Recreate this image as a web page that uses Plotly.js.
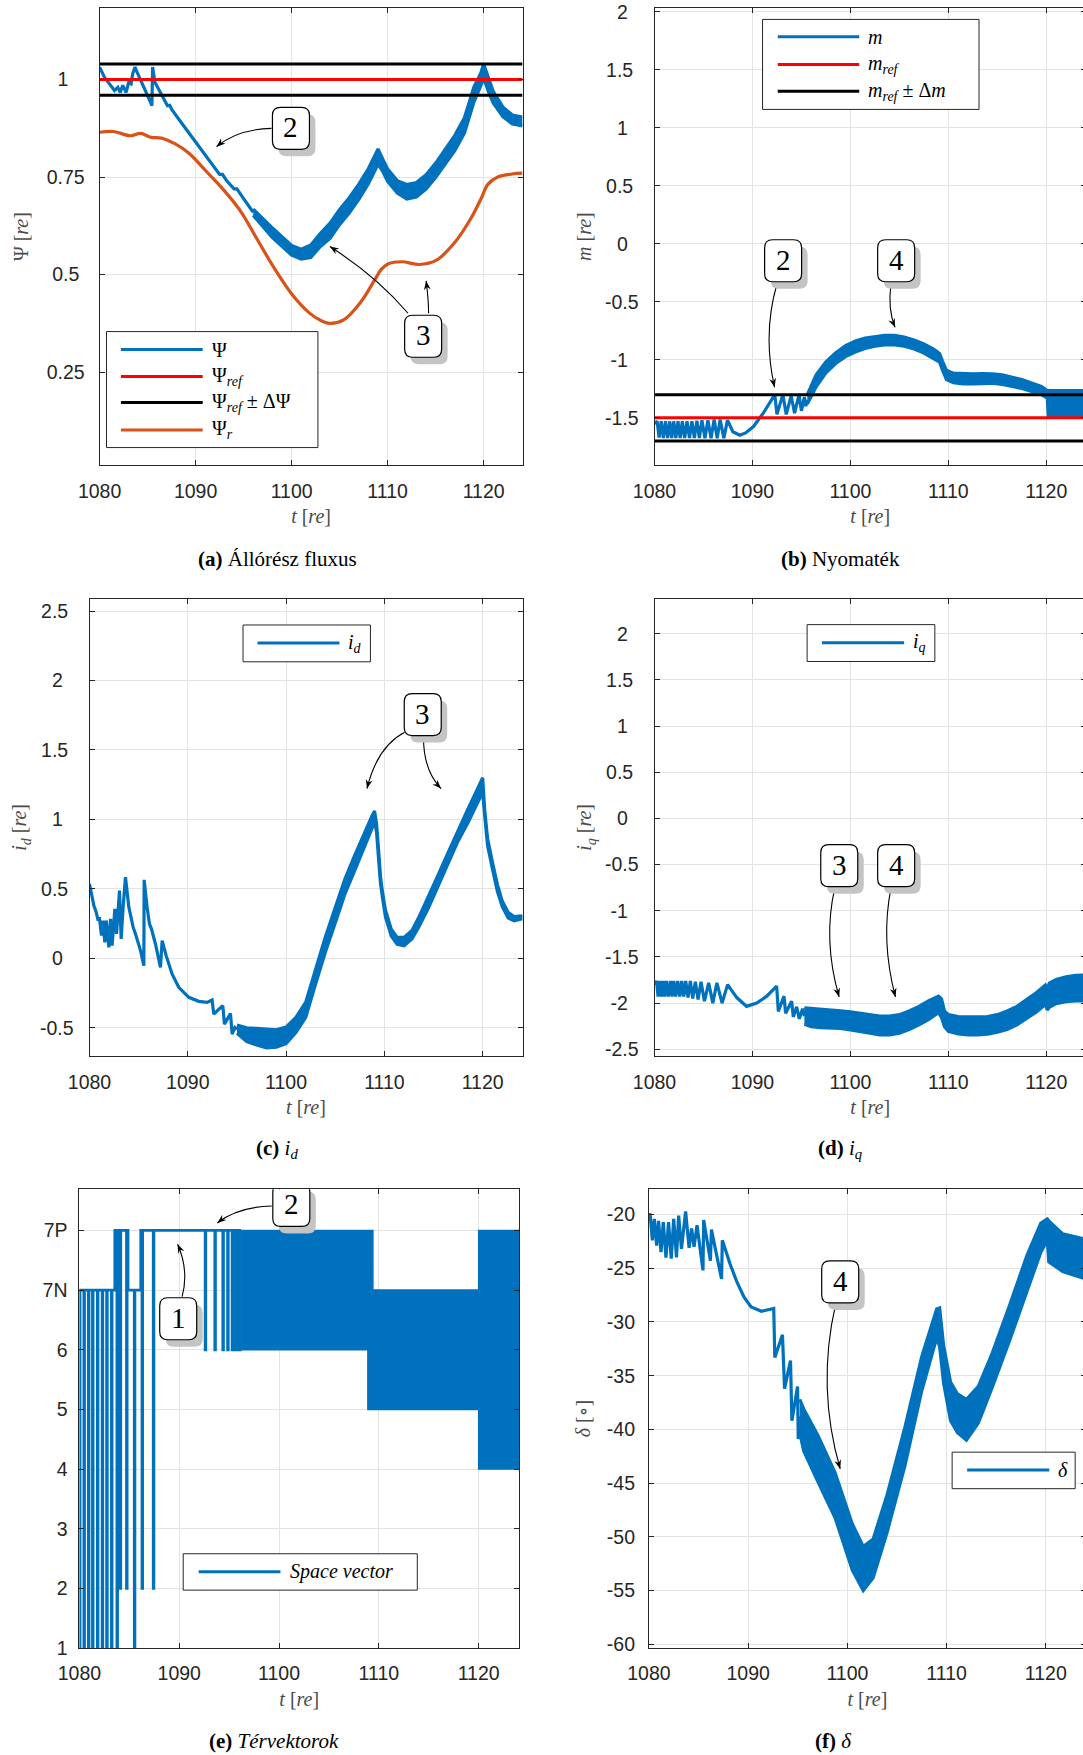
<!DOCTYPE html>
<html>
<head>
<meta charset="utf-8">
<script src="https://cdn.plot.ly/plotly-3.0.1.min.js"></script>
<style>
html,body{margin:0;padding:0;overflow:hidden;background:#ffffff;}
#chart{width:1090px;height:1755px;}
</style>
</head>
<body>
<div id="chart"></div>
<script>
// ===================== DATA =====================
const T_RANGE = [1080, 1124.05];
const X_TICKS = [1080, 1090, 1100, 1110, 1120];

// (a) stator flux
const PSI_REF = 1.0;
const PSI_DELTA = 0.04;
const PSI_T = [1080.0,1080.5,1081.03,1081.55,1081.9,1082.14,1082.41,1082.76,1083.03,1083.28,1083.45,1083.69,1083.97,1084.48,1085.0,1085.45,1085.52,1085.76,1086.2,1086.72,1087.07,1087.3,1087.55,1088.5,1090.0,1091.0,1092.0,1092.5,1092.8,1093.2,1094.0,1094.3,1095.0,1096.0];
const PSI_V = [1.032,1.006,0.989,0.972,0.98,0.967,0.985,0.967,0.993,0.989,1.015,1.032,1.015,0.989,0.959,0.933,1.032,0.993,0.972,0.95,0.933,0.934,0.922,0.89,0.84,0.805,0.772,0.757,0.757,0.742,0.72,0.72,0.695,0.66];
const PSI_BAND_T  = [1096,1098,1100,1101,1102,1103,1104,1105,1106,1107,1108,1109,1109.5,1110,1111,1112,1113,1114,1115,1116,1117,1118,1119,1119.7,1120,1120.5,1121,1122,1123,1124.05];
const PSI_BAND_HI = [0.668,0.62,0.575,0.565,0.576,0.606,0.632,0.667,0.697,0.732,0.772,0.822,0.796,0.771,0.741,0.731,0.736,0.756,0.786,0.821,0.857,0.902,0.982,1.016,1.04,1.005,0.97,0.93,0.909,0.904];
const PSI_BAND_LO = [0.652,0.595,0.55,0.54,0.544,0.572,0.593,0.628,0.658,0.693,0.733,0.783,0.764,0.739,0.709,0.694,0.699,0.719,0.749,0.784,0.818,0.863,0.943,0.984,1.004,0.969,0.94,0.905,0.886,0.881];
const PSIR_T = [1080,1081.43,1083.22,1084.26,1085.37,1086.44,1087.88,1089.31,1091.1,1092.89,1094.68,1096.47,1098.26,1100.05,1101.84,1103.0,1103.99,1105.42,1107.21,1108.64,1109.36,1110.08,1111.51,1113.3,1115.09,1116.88,1118.67,1119.74,1120.46,1121.53,1122.96,1124.05];
const PSIR_V = [0.865,0.867,0.856,0.862,0.852,0.85,0.835,0.811,0.765,0.718,0.663,0.588,0.514,0.449,0.402,0.383,0.375,0.384,0.43,0.486,0.514,0.528,0.533,0.526,0.537,0.579,0.644,0.695,0.732,0.751,0.758,0.76];

// (b) torque
const M_REF = -1.5;
const M_DELTA = 0.2;
const M_T = [1080.0,1080.27,1080.47,1080.68,1080.9,1081.12,1081.34,1081.56,1081.76,1081.96,1082.18,1082.4,1082.62,1082.84,1083.08,1083.32,1083.57,1083.82,1084.07,1084.33,1084.58,1084.84,1085.15,1085.45,1085.77,1086.09,1086.4,1086.7,1087.08,1087.45,1088.0,1088.7,1089.3,1090.1,1091.1,1092.28,1092.5,1093.1,1093.45,1093.95,1094.3,1094.75,1095.0,1095.3,1095.45,1095.6];
const M_V = [-1.55,-1.53,-1.67,-1.53,-1.675,-1.53,-1.675,-1.53,-1.675,-1.53,-1.675,-1.53,-1.675,-1.53,-1.675,-1.53,-1.675,-1.53,-1.675,-1.525,-1.675,-1.52,-1.675,-1.52,-1.675,-1.515,-1.675,-1.515,-1.675,-1.52,-1.62,-1.65,-1.63,-1.575,-1.46,-1.30,-1.47,-1.30,-1.47,-1.31,-1.46,-1.30,-1.44,-1.32,-1.40,-1.345];
const M_BAND_T  = [1095.6,1096.5,1097.5,1098.5,1099.5,1100.5,1101.5,1102.5,1103.5,1104.5,1105.5,1106.5,1107.5,1108.5,1109.1,1109.4,1109.8,1110.5,1111.5,1112.5,1113.5,1114.5,1115.5,1116.5,1117.5,1118.5,1119.5,1120.1,1120.2,1121,1122,1123,1124.05];
const M_BAND_HI = [-1.30,-1.13,-1.018,-0.938,-0.878,-0.838,-0.813,-0.798,-0.788,-0.788,-0.803,-0.828,-0.863,-0.908,-0.945,-1.01,-1.09,-1.115,-1.12,-1.12,-1.118,-1.12,-1.13,-1.15,-1.17,-1.20,-1.23,-1.265,-1.265,-1.265,-1.265,-1.265,-1.265];
const M_BAND_LO = [-1.38,-1.232,-1.112,-1.032,-0.972,-0.932,-0.902,-0.882,-0.872,-0.872,-0.882,-0.907,-0.942,-0.987,-1.02,-1.09,-1.17,-1.197,-1.207,-1.207,-1.202,-1.202,-1.212,-1.227,-1.247,-1.272,-1.30,-1.33,-1.495,-1.495,-1.495,-1.495,-1.495];

// (c) i_d
const ID_T = [1080.0,1080.2,1080.44,1080.68,1080.88,1081.0,1081.22,1081.36,1081.56,1081.7,1081.97,1082.14,1082.3,1082.58,1082.75,1083.05,1083.22,1083.42,1083.66,1084.0,1084.44,1084.68,1084.88,1085.19,1085.53,1085.56,1085.86,1086.1,1086.3,1086.71,1087.22,1087.39,1087.8,1088.4,1089.08,1090.1,1091.12,1091.97,1092.47,1092.64,1093.56,1093.73,1094.34,1094.51,1094.78,1095.0];
const ID_V = [0.536,0.452,0.38,0.332,0.272,0.296,0.163,0.272,0.115,0.272,0.079,0.284,0.091,0.356,0.175,0.488,0.139,0.368,0.584,0.368,0.224,0.175,0.127,0.055,-0.053,0.565,0.368,0.248,0.212,0.103,-0.065,0.127,0.019,-0.113,-0.209,-0.281,-0.31,-0.317,-0.30,-0.401,-0.341,-0.474,-0.397,-0.546,-0.498,-0.51];
const ID_BAND_T  = [1095.0,1096.0,1097.0,1098.0,1099.0,1100.0,1101.0,1102.0,1103.0,1104.0,1105.0,1106.0,1107.0,1108.0,1108.7,1109.0,1109.2,1109.4,1109.6,1109.8,1110.1,1110.7,1111.3,1112.0,1112.8,1113.5,1114.5,1115.5,1116.5,1117.5,1118.5,1119.3,1120.0,1120.2,1120.5,1121.0,1121.5,1122.0,1122.6,1123.2,1124.05];
const ID_BAND_HI = [-0.48,-0.50,-0.505,-0.51,-0.515,-0.495,-0.425,-0.315,-0.075,0.155,0.365,0.575,0.745,0.915,1.02,1.06,0.97,0.79,0.59,0.48,0.35,0.21,0.15,0.15,0.20,0.295,0.445,0.605,0.765,0.925,1.075,1.195,1.30,1.07,0.86,0.69,0.53,0.41,0.33,0.30,0.305];
const ID_BAND_LO = [-0.54,-0.60,-0.625,-0.645,-0.64,-0.615,-0.535,-0.425,-0.185,0.045,0.255,0.465,0.635,0.805,0.92,0.98,0.91,0.74,0.54,0.44,0.30,0.16,0.10,0.09,0.14,0.225,0.365,0.525,0.685,0.845,0.975,1.095,1.195,1.03,0.81,0.64,0.48,0.37,0.29,0.27,0.285];

// (d) i_q
const IQ_T = [1080.0,1080.2,1080.37,1080.54,1080.71,1080.88,1081.05,1081.22,1081.42,1081.63,1081.8,1081.97,1082.17,1082.37,1082.58,1082.78,1082.98,1083.19,1083.42,1083.66,1083.9,1084.17,1084.45,1084.75,1085.1,1085.53,1085.95,1086.37,1086.9,1087.46,1088.4,1089.4,1090.44,1091.46,1092.47,1092.64,1093.22,1093.39,1094.0,1094.17,1094.51,1094.78,1095.12,1095.3];
const IQ_V = [-1.80,-1.76,-1.93,-1.76,-1.93,-1.76,-1.93,-1.76,-1.93,-1.76,-1.93,-1.76,-1.93,-1.76,-1.93,-1.76,-1.93,-1.76,-1.94,-1.76,-1.95,-1.77,-1.96,-1.77,-1.98,-1.78,-2.0,-1.78,-2.0,-1.80,-1.94,-2.035,-2.0,-1.925,-1.815,-2.09,-1.925,-2.11,-1.98,-2.15,-2.04,-2.17,-2.06,-2.14];
const IQ_BAND_T  = [1095.3,1096,1097,1098,1099,1100,1101,1102,1103,1104,1105,1106,1107,1108,1109,1109.3,1109.6,1110,1111,1112,1113,1114,1115,1116,1117,1118,1119,1119.9,1120.1,1120.3,1121,1122,1123,1124.05];
const IQ_BAND_HI = [-2.05,-2.055,-2.07,-2.075,-2.085,-2.095,-2.11,-2.125,-2.14,-2.14,-2.125,-2.085,-2.035,-1.975,-1.925,-1.955,-2.085,-2.125,-2.145,-2.15,-2.15,-2.145,-2.125,-2.085,-2.035,-1.965,-1.885,-1.805,-1.845,-1.785,-1.745,-1.715,-1.70,-1.695];
const IQ_BAND_LO = [-2.23,-2.255,-2.265,-2.27,-2.275,-2.29,-2.305,-2.325,-2.345,-2.345,-2.325,-2.285,-2.235,-2.175,-2.105,-2.155,-2.255,-2.305,-2.335,-2.345,-2.345,-2.335,-2.315,-2.285,-2.235,-2.165,-2.095,-2.015,-2.075,-2.045,-2.005,-1.985,-1.975,-1.975];

// (e) space vectors (7N = 7, 7P = 8)
const SV_TICKS = [1, 2, 3, 4, 5, 6, 7, 8];
const SV_LABELS = ['1', '2', '3', '4', '5', '6', '7N', '7P'];
const SV_T = [1080.0,1080.06,1080.45,1080.51,1080.9,1080.96,1081.31,1081.37,1081.8,1081.86,1082.28,1082.34,1082.73,1082.79,1083.21,1083.27,1083.55,1083.76,1083.82,1084.08,1084.14,1084.72,1084.78,1084.87,1085.5,1085.56,1086.15,1086.27,1086.33,1087.4,1087.46,1092.6,1092.66,1093.57,1093.63,1094.37,1094.43,1094.85,1094.91,1095.3,1095.36,1095.58,1095.64,1095.82,1095.88,1096.06,1096.12,1096.2];
const SV_V = [1,7,1,7,1,7,1,7,1,7,1,7,1,7,1,7,8,1,8,2,8,2,8,7,1,7,8,2,8,2,8,6,8,6,8,6,8,6,8,6,8,6,8,6,8,6,8,8];
const SVB_T  = [1096.2,1108.9,1108.9,1109.4,1109.4,1120.0,1120.0,1124.05];
const SVB_HI = [8,8,8,8,7,7,8,8];
const SVB_LO = [6,6,5,5,5,5,4,4];

// (f) load angle delta
const D_T = [1080.0,1080.12,1080.35,1080.55,1080.78,1080.98,1081.22,1081.45,1081.72,1081.98,1082.25,1082.5,1082.78,1083.0,1083.28,1083.7,1084.05,1084.3,1084.55,1084.85,1085.45,1085.52,1086.2,1086.3,1087.32,1087.4,1088.18,1088.88,1089.59,1090.3,1091.35,1092.05,1092.58,1092.69,1093.46,1093.67,1094.27,1094.41,1094.98,1095.05,1095.2];
const D_V = [-20.3,-19.9,-22.4,-20.4,-22.9,-20.6,-23.5,-20.7,-24.0,-20.7,-24.1,-20.4,-24.0,-20.1,-23.2,-19.7,-23.1,-21.3,-23.0,-21.0,-25.2,-20.5,-24.3,-21.4,-26.0,-22.4,-24.6,-26.3,-27.7,-28.6,-29.0,-28.9,-28.75,-33.3,-31.2,-36.2,-33.6,-39.2,-36.0,-40.9,-38.8];
const D_BAND_T  = [1095.2,1095.6,1097,1098.75,1100.5,1101.6,1102.6,1104,1105.8,1107.5,1109.0,1109.3,1109.7,1110.4,1111.1,1112.0,1113.2,1114.6,1116.4,1118.1,1119.5,1120.15,1120.3,1121.7,1124.05];
const D_BAND_HI = [-37.2,-38.1,-40.5,-44.0,-48.8,-50.9,-50.2,-46.1,-39.8,-33.2,-28.8,-28.7,-32.2,-35.6,-36.7,-37.2,-36.0,-32.9,-28.3,-23.8,-20.8,-20.4,-20.6,-21.8,-22.3];
const D_BAND_LO = [-40.3,-42.0,-44.8,-48.2,-53.1,-55.0,-53.8,-49.6,-43.4,-36.4,-31.5,-32.3,-35.7,-39.2,-40.3,-41.0,-39.4,-36.1,-31.6,-27.1,-23.5,-22.4,-24.4,-25.3,-26.0];

// y tick values
const A_YTICKS = [0.25, 0.5, 0.75, 1];
const B_YTICKS = [-1.5, -1, -0.5, 0, 0.5, 1, 1.5, 2];
const C_YTICKS = [-0.5, 0, 0.5, 1, 1.5, 2, 2.5];
const D_YTICKS = [-2.5, -2, -1.5, -1, -0.5, 0, 0.5, 1, 1.5, 2];
const F_YTICKS = [-60, -55, -50, -45, -40, -35, -30, -25, -20];

// ===================== STYLE / LAYOUT =====================
const W = 1090, H = 1755;
const BLUE = '#0072BD', ORANGE = '#D95319', RED = '#FF0000', BLACK = '#000000';
const SANS = 'Liberation Sans, Arial, Helvetica, sans-serif';
const SERIF = 'Liberation Serif, Times New Roman, DejaVu Serif, serif';
const LW = 3.2;

const PANELS = {
  a: {n: '',  px: [99.6, 522.5], py: [7.8, 465.4],    yr: [0.011, 1.184],  yt: A_YTICKS, yl: null,  centre: true,  ylab: 10, ytitle: 'Ψ [<i>re</i>]', ystand: 12},
  b: {n: '2', px: [654.5, 1086], py: [7.8, 465.4],    yr: [-1.91, 2.035],  yt: B_YTICKS, yl: null,  centre: true,  ylab: 11, ytitle: '<i>m</i> [<i>re</i>]', ystand: 7},
  c: {n: '3', px: [89.5, 522.5], py: [598.6, 1056.2], yr: [-0.705, 2.59],  yt: C_YTICKS, yl: null,  centre: true,  ylab: 11, ytitle: '<i>i<sub>d</sub></i> [<i>re</i>]', ystand: 7},
  d: {n: '4', px: [654.5, 1086], py: [598.6, 1056.2], yr: [-2.575, 2.38],  yt: D_YTICKS, yl: null,  centre: true,  ylab: 11, ytitle: '<i>i<sub>q</sub></i> [<i>re</i>]', ystand: 7},
  e: {n: '5', px: [79.4, 519.1], py: [1189.3, 1648],  yr: [1, 8.69],       yt: SV_TICKS, yl: SV_LABELS, centre: false, ylab: 7, ytitle: null, ystand: 0},
  f: {n: '6', px: [648.9, 1086], py: [1189.3, 1648],  yr: [-60.35, -17.65], yt: F_YTICKS, yl: null, centre: true,  ylab: 9, ytitle: '<i>δ</i> [∘]', ystand: 10}
};
const xa = k => 'x' + PANELS[k].n;
const ya = k => 'y' + PANELS[k].n;
function pxScale(k) {
  const p = PANELS[k];
  return {sx: (p.px[1] - p.px[0]) / (T_RANGE[1] - T_RANGE[0]), sy: (p.py[1] - p.py[0]) / (p.yr[1] - p.yr[0])};
}
const fmt = v => String(v);
// centre short tick labels on the widest one (as in the original figure)
const CHAR_W = {'0': .556, '1': .556, '2': .556, '3': .556, '4': .556, '5': .556, '6': .556, '7': .556, '8': .556, '9': .556, '.': .278, '-': .333, 'N': .722, 'P': .667};
function centredLabels(labels) {
  const w = s => s.split('').reduce((a, c) => a + (CHAR_W[c] || .556), 0);
  const maxW = Math.max.apply(null, labels.map(w));
  return labels.map(s => s + '\u2008'.repeat(Math.round((maxW - w(s)) / 2 / 0.278)));
}

const layout = {
  width: W, height: H,
  margin: {l: 0, r: 0, t: 0, b: 0},
  paper_bgcolor: '#ffffff', plot_bgcolor: '#ffffff',
  showlegend: false,
  font: {family: SANS, size: 19.5, color: '#262626'},
  shapes: [], annotations: []
};

Object.keys(PANELS).forEach(k => {
  const p = PANELS[k];
  const common = {
    ticks: 'inside', ticklen: 5, tickwidth: 1, tickcolor: '#262626',
    showline: true, linecolor: '#262626', linewidth: 1, mirror: 'ticks',
    showgrid: true, gridcolor: '#e3e3e3', gridwidth: 1, zeroline: false,
    tickfont: {family: SANS, size: 19.5, color: '#262626'},
    fixedrange: true
  };
  layout['xaxis' + p.n] = Object.assign({}, common, {
    domain: [p.px[0] / W, p.px[1] / W], range: T_RANGE, anchor: ya(k),
    tickmode: 'array', tickvals: X_TICKS, ticktext: X_TICKS.map(fmt),
    ticklabelstandoff: 8,
    title: {text: '<i>t</i> [<i>re</i>]', font: {family: SERIF, size: 20, color: '#4a4a4a'}, standoff: 8}
  });
  const labels = p.yl ? p.yl : p.yt.map(fmt);
  const yax = Object.assign({}, common, {
    domain: [1 - p.py[1] / H, 1 - p.py[0] / H], range: p.yr, anchor: xa(k),
    tickmode: 'array', tickvals: p.yt, ticktext: p.centre ? centredLabels(labels) : labels,
    ticklabelstandoff: p.ylab
  });
  if (p.ytitle) yax.title = {text: p.ytitle, font: {family: SERIF, size: 20, color: '#4a4a4a'}, standoff: p.ystand};
  layout['yaxis' + p.n] = yax;
});

// ===================== TRACES =====================
const traces = [];
function addLine(k, x, y, color, width, name, shape) {
  traces.push({type: 'scatter', mode: 'lines', x: x, y: y, xaxis: xa(k), yaxis: ya(k), name: name,
    showlegend: false, hoverinfo: 'skip', line: {color: color, width: width, shape: shape || 'linear'}});
}
function addBand(k, x, lo, hi, color, width, name) {
  traces.push({type: 'scatter', mode: 'lines', x: x, y: lo, xaxis: xa(k), yaxis: ya(k), name: name + ' min',
    showlegend: false, hoverinfo: 'skip', line: {color: color, width: width}});
  traces.push({type: 'scatter', mode: 'lines', x: x, y: hi, xaxis: xa(k), yaxis: ya(k), name: name + ' max',
    showlegend: false, hoverinfo: 'skip', line: {color: color, width: width}, fill: 'tonexty', fillcolor: color});
}
const span = T_RANGE.slice();

// (a)
addLine('a', PSI_T, PSI_V, BLUE, LW, 'Ψ');
addBand('a', PSI_BAND_T, PSI_BAND_LO, PSI_BAND_HI, BLUE, LW, 'Ψ');
addLine('a', span, [PSI_REF, PSI_REF], RED, 3, 'Ψref');
addLine('a', span, [PSI_REF + PSI_DELTA, PSI_REF + PSI_DELTA], BLACK, 3, 'Ψref+ΔΨ');
addLine('a', span, [PSI_REF - PSI_DELTA, PSI_REF - PSI_DELTA], BLACK, 3, 'Ψref-ΔΨ');
addLine('a', PSIR_T, PSIR_V, ORANGE, LW, 'Ψr', 'spline');

// (b)
addLine('b', M_T, M_V, BLUE, LW, 'm');
addBand('b', M_BAND_T, M_BAND_LO, M_BAND_HI, BLUE, LW, 'm');
addLine('b', span, [M_REF, M_REF], RED, 3, 'mref');
addLine('b', span, [M_REF + M_DELTA, M_REF + M_DELTA], BLACK, 3, 'mref+Δm');
addLine('b', span, [M_REF - M_DELTA, M_REF - M_DELTA], BLACK, 3, 'mref-Δm');

// (c)
addLine('c', ID_T, ID_V, BLUE, LW, 'id');
addBand('c', ID_BAND_T, ID_BAND_LO, ID_BAND_HI, BLUE, LW, 'id');

// (d)
addLine('d', IQ_T, IQ_V, BLUE, LW, 'iq');
addBand('d', IQ_BAND_T, IQ_BAND_LO, IQ_BAND_HI, BLUE, LW, 'iq');

// (e)
addLine('e', SV_T, SV_V, BLUE, 2.8, 'Space vector', 'hv');
addBand('e', SVB_T, SVB_LO, SVB_HI, BLUE, 1.5, 'Space vector');

// (f)
addLine('f', D_T, D_V, BLUE, LW, 'δ');
addBand('f', D_BAND_T, D_BAND_LO, D_BAND_HI, BLUE, LW, 'δ');

// ===================== LEGENDS =====================
function legend(k, box, lx0, lx1, tx, items) {
  const xr = xa(k), yr = ya(k);
  layout.shapes.push({type: 'rect', xref: xr, yref: yr, x0: box[0], x1: box[1], y0: box[2], y1: box[3],
    fillcolor: '#ffffff', line: {color: '#262626', width: 1}, layer: 'above'});
  items.forEach(it => {
    layout.shapes.push({type: 'line', xref: xr, yref: yr, x0: lx0, x1: lx1, y0: it[0], y1: it[0],
      line: {color: it[1], width: 3}, layer: 'above'});
    layout.annotations.push({xref: xr, yref: yr, x: tx, y: it[0], text: it[2], showarrow: false,
      xanchor: 'left', yanchor: 'middle', font: {family: SERIF, size: 20, color: '#000'}});
  });
}
legend('a', [1080.72, 1102.74, 0.0567, 0.354], 1082.22, 1090.74, 1091.53, [
  [0.308, BLUE, 'Ψ'],
  [0.239, RED, 'Ψ<sub><i>ref</i></sub>'],
  [0.172, BLACK, 'Ψ<sub><i>ref</i></sub> ± ΔΨ'],
  [0.102, ORANGE, 'Ψ<sub><i>r</i></sub>']
]);
legend('b', [1091.03, 1113.13, 1.159, 1.935], 1092.58, 1100.9, 1101.6, [
  [1.785, BLUE, '<i>m</i>'],
  [1.547, RED, '<i>m<sub>ref</sub></i>'],
  [1.315, BLACK, '<i>m<sub>ref</sub></i> ± Δ<i>m</i>']
]);
legend('c', [1095.62, 1108.58, 2.135, 2.4], 1097.09, 1105.43, 1106.13, [[2.27, BLUE, '<i>i<sub>d</sub></i>']]);
legend('d', [1095.58, 1108.62, 1.699, 2.098], 1097.09, 1105.48, 1106.19, [[1.902, BLUE, '<i>i<sub>q</sub></i>']]);
legend('e', [1090.4, 1113.85, 1.97, 2.58], 1091.95, 1100.14, 1100.93, [[2.28, BLUE, '<i>Space vector</i>']]);
legend('f', [1110.56, 1122.96, -45.52, -42.12], 1112.07, 1120.35, 1121.06, [[-43.78, BLUE, '<i>δ</i>']]);

// ===================== CALLOUTS =====================
const f2 = v => (Math.abs(v) < 1e-9 ? 0 : v).toFixed(2);
function roundRectPath(ox, oy, w, h, r) {
  const L = ox - w / 2, R = ox + w / 2, B = oy - h / 2, T = oy + h / 2;
  return 'M' + (L + r) + ',' + B + ' L' + (R - r) + ',' + B + ' Q' + R + ',' + B + ' ' + R + ',' + (B + r) +
    ' L' + R + ',' + (T - r) + ' Q' + R + ',' + T + ' ' + (R - r) + ',' + T +
    ' L' + (L + r) + ',' + T + ' Q' + L + ',' + T + ' ' + L + ',' + (T - r) +
    ' L' + L + ',' + (B + r) + ' Q' + L + ',' + B + ' ' + (L + r) + ',' + B + ' Z';
}
function callout(k, cx, cy, label) {
  const base = {type: 'path', xref: xa(k), yref: ya(k), xsizemode: 'pixel', ysizemode: 'pixel', xanchor: cx, yanchor: cy, layer: 'above'};
  layout.shapes.push(Object.assign({}, base, {path: roundRectPath(6, -7, 37, 42, 8), fillcolor: '#c4c4c4', line: {width: 0}}));
  layout.shapes.push(Object.assign({}, base, {path: roundRectPath(0, 0, 37, 42, 8), fillcolor: '#ffffff', line: {color: '#000', width: 1.2}}));
  layout.annotations.push({xref: xa(k), yref: ya(k), x: cx, y: cy, text: label, showarrow: false,
    xanchor: 'center', yanchor: 'middle', yshift: 1, font: {family: SERIF, size: 29, color: '#000'}});
}
function curvedArrow(k, S, C, E) {
  layout.shapes.push({type: 'path', xref: xa(k), yref: ya(k),
    path: 'M' + S[0] + ',' + S[1] + ' Q' + C[0] + ',' + C[1] + ' ' + E[0] + ',' + E[1],
    line: {color: '#000', width: 1.1}, layer: 'above'});
  // arrow head (pixel units around the tip, y pointing up)
  const sc = pxScale(k);
  const dx = (E[0] - C[0]) * sc.sx, dy = (E[1] - C[1]) * sc.sy;
  const len = Math.hypot(dx, dy) || 1;
  const ux = dx / len, uy = dy / len, L = 9, hw = 3.4;
  const bx = -ux * L, by = -uy * L, px = -uy, py = ux, nx = -ux * L * 0.68, ny = -uy * L * 0.68;
  layout.shapes.push({type: 'path', xref: xa(k), yref: ya(k), xsizemode: 'pixel', ysizemode: 'pixel',
    xanchor: E[0], yanchor: E[1], layer: 'above', fillcolor: '#000', line: {width: 0},
    path: 'M0,0 L' + f2(bx + px * hw) + ',' + f2(by + py * hw) + ' L' + f2(nx) + ',' + f2(ny) +
      ' L' + f2(bx - px * hw) + ',' + f2(by - py * hw) + ' Z'});
}
curvedArrow('a', [1097.9, 0.875], [1094.33, 0.8725], [1092.17, 0.828]);
curvedArrow('a', [1112.12, 0.401], [1108.87, 0.4955], [1103.99, 0.572]);
curvedArrow('a', [1114.27, 0.401], [1114.26, 0.4375], [1114.01, 0.484]);
callout('a', 1099.93, 0.875, '2');
callout('a', 1113.7, 0.342, '3');

curvedArrow('b', [1092.51, -0.344], [1091.015, -0.7755], [1092.26, -1.237]);
curvedArrow('b', [1104.14, -0.344], [1103.79, -0.568], [1104.56, -0.72]);
callout('b', 1093.13, -0.1455, '2');
callout('b', 1104.67, -0.1455, '4');

curvedArrow('c', [1112.05, 1.627], [1109.26, 1.5215], [1108.23, 1.222]);
curvedArrow('c', [1113.98, 1.586], [1113.99, 1.352], [1115.76, 1.222]);
callout('c', 1113.9, 1.755, '3');

curvedArrow('d', [1098.4, -0.754], [1097.175, -1.32], [1098.85, -1.934]);
curvedArrow('d', [1104.14, -0.754], [1103.07, -1.32], [1104.6, -1.934]);
callout('d', 1098.86, -0.512, '3');
callout('d', 1104.67, -0.512, '4');

curvedArrow('e', [1099.27, 8.41], [1095.8, 8.3925], [1093.82, 8.125]);
curvedArrow('e', [1090.29, 6.89], [1090.995, 7.33], [1089.84, 7.77]);
callout('e', 1101.23, 8.42, '2');
callout('e', 1089.9, 6.52, '1');

curvedArrow('f', [1098.82, -28.33], [1096.89, -36.08], [1099.28, -43.68]);
callout('f', 1099.28, -26.27, '4');

// ===================== CAPTIONS =====================
[
  [277.5, 559.4, '<b>(a)</b> Állórész fluxus'],
  [840.0, 559.4, '<b>(b)</b> Nyomaték'],
  [277.5, 1149.0, '<b>(c)</b> <i>i<sub>d</sub></i>'],
  [840.0, 1149.0, '<b>(d)</b> <i>i<sub>q</sub></i>'],
  [274.0, 1741.0, '<b>(e)</b> <i>Térvektorok</i>'],
  [833.5, 1741.0, '<b>(f)</b> <i>δ</i>']
].forEach(c => {
  layout.annotations.push({xref: 'paper', yref: 'paper', x: c[0] / W, y: 1 - c[1] / H, text: c[2], showarrow: false,
    xanchor: 'center', yanchor: 'middle', font: {family: SERIF, size: 21, color: '#000'}});
});

Plotly.newPlot('chart', traces, layout, {staticPlot: true, displayModeBar: false, responsive: false});
</script>
</body>
</html>
